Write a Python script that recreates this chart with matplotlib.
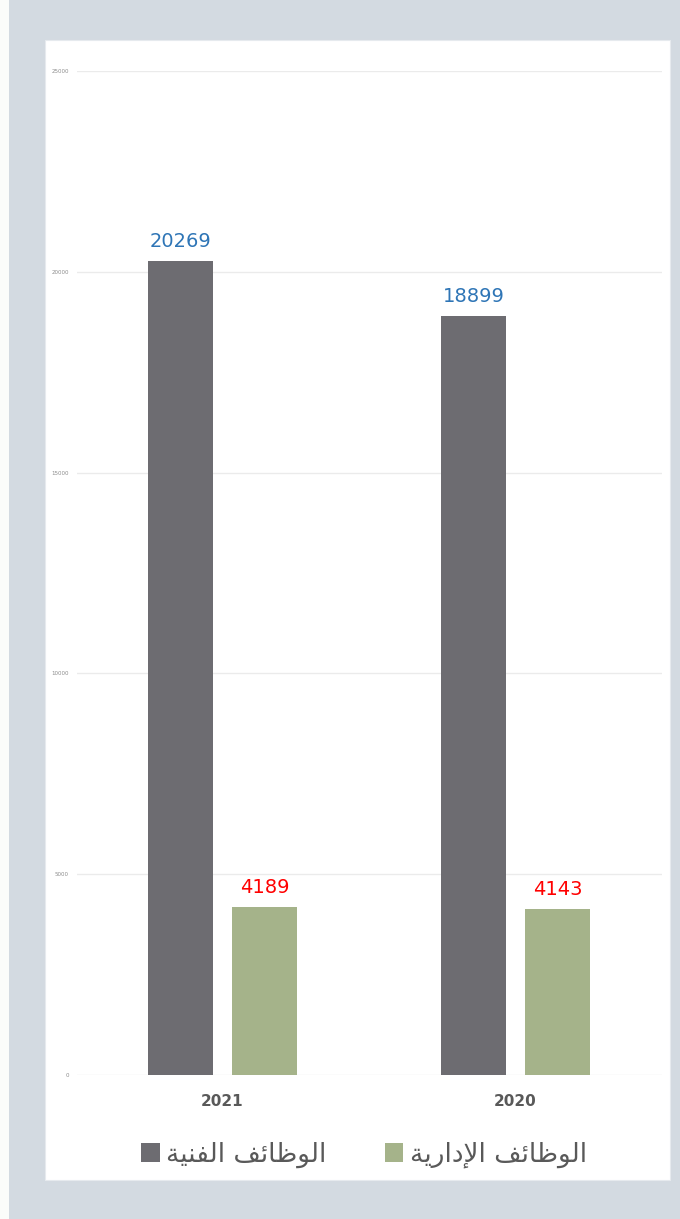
import matplotlib
matplotlib.use("Agg")
import matplotlib.pyplot as plt
from matplotlib.patches import Rectangle
import numpy as np

years = ["2021", "2020"]
technical = [20269, 18899]
administrative = [4189, 4143]
y_ticks = [0, 5000, 10000, 15000, 20000, 25000]


def shape_rtl(codepoints):
    # Arabic presentation forms in logical order, reversed for LTR drawing
    return "".join(chr(c) if c != 0x20 else " " for c in reversed(codepoints))


# "الوظائف الفنية"
label_technical = shape_rtl([0xFE8D, 0xFEDF, 0xFEEE, 0xFEC7, 0xFE8E, 0xFE8B, 0xFED2, 0x20,
                             0xFE8D, 0xFEDF, 0xFED4, 0xFEE8, 0xFEF4, 0xFE94])
# "الوظائف الإدارية"
label_admin = shape_rtl([0xFE8D, 0xFEDF, 0xFEEE, 0xFEC7, 0xFE8E, 0xFE8B, 0xFED2, 0x20,
                         0xFE8D, 0xFEF9, 0xFEA9, 0xFE8D, 0xFEAD, 0xFEF3, 0xFE94])

DARK = "#6d6c71"
GREEN = "#a5b38a"

fig = plt.figure(figsize=(6.8, 12.19), dpi=100, facecolor="#d3dae1")
fig.patches.append(Rectangle((0, 0), 9 / 680, 1, transform=fig.transFigure,
                             facecolor="#fbfcfa", edgecolor="none", zorder=-2))
fig.patches.append(Rectangle((45 / 680, 39 / 1219), 625 / 680, 1140 / 1219,
                             transform=fig.transFigure, facecolor="white",
                             edgecolor="#e6eaee", linewidth=0.8, zorder=-2))

ax = fig.add_axes([77 / 680, 144 / 1219, 585 / 680, 1004 / 1219])
ax.set_facecolor("none")

x = np.arange(len(years))
width = 0.222
offset = 0.1433
bars_t = ax.bar(x - offset, technical, width, color=DARK, label=label_technical, zorder=3)
bars_a = ax.bar(x + offset, administrative, width, color=GREEN, label=label_admin, zorder=3)

for bar, val in zip(bars_t, technical):
    ax.text(bar.get_x() + bar.get_width() / 2, val + 250, str(val), ha="center", va="bottom",
            fontsize=14, color="#2e75b6")
for bar, val in zip(bars_a, administrative):
    ax.text(bar.get_x() + bar.get_width() / 2, val + 250, str(val), ha="center", va="bottom",
            fontsize=14, color="#ff0000")

ax.set_xlim(-0.4966, 1.5)
ax.set_ylim(0, 25000)
ax.set_yticks(y_ticks)
ax.set_yticklabels([str(v) for v in y_ticks], fontsize=4, color="#8c8c8c")
ax.set_xticks(x)
ax.set_xticklabels(years, fontsize=11, fontweight="bold", color="#595959")
ax.tick_params(axis="both", length=0)
ax.tick_params(axis="y", pad=6)
ax.tick_params(axis="x", pad=14)
ax.grid(axis="y", color="#ebebeb", linewidth=1, zorder=0)
for spine in ax.spines.values():
    spine.set_visible(False)

ax.legend(loc="upper center", bbox_to_anchor=(0.491, -0.043), ncol=2, frameon=False,
          prop={"family": "DejaVu Sans", "size": 19}, labelcolor="#595959",
          handlelength=0.7, handleheight=0.7, handletextpad=0.25, columnspacing=2.2)

fig.savefig("out.png", dpi=100, facecolor=fig.get_facecolor())
